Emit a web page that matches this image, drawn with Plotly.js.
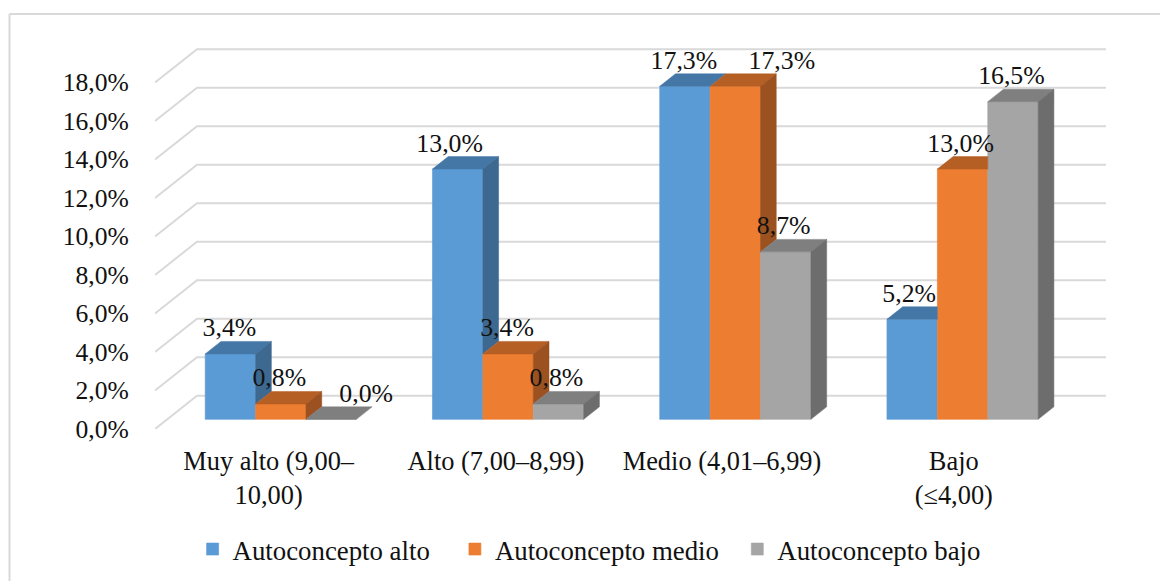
<!DOCTYPE html>
<html>
<head>
<meta charset="utf-8">
<script src="https://cdn.plot.ly/plotly-3.0.1.min.js"></script>
<style>html,body{margin:0;padding:0;background:#fff}</style>
</head>
<body>
<div id="chart" style="width:1160px;height:581px"></div>
<script>
const categories = ['Muy alto (9,00–<br>10,00)', 'Alto (7,00–8,99)', 'Medio (4,01–6,99)', 'Bajo<br>(≤4,00)'];
const yTicks = [0, 2, 4, 6, 8, 10, 12, 14, 16, 18];
const yTickLabels = ['0,0%', '2,0%', '4,0%', '6,0%', '8,0%', '10,0%', '12,0%', '14,0%', '16,0%', '18,0%'];
const autoconceptoAlto = [3.4, 13.0, 17.3, 5.2];
const autoconceptoMedio = [0.8, 3.4, 17.3, 13.0];
const autoconceptoBajo = [0.0, 0.8, 8.7, 16.5];

const seriesNames = ['Autoconcepto alto\u00A0\u00A0\u00A0', 'Autoconcepto medio\u00A0\u00A0', 'Autoconcepto bajo'];
const seriesValues = [autoconceptoAlto, autoconceptoMedio, autoconceptoBajo];
const frontColors = ['#5B9BD5', '#ED7D31', '#A5A5A5'];
const topColors = ['#4577A6', '#B55F25', '#7F7F7F'];
const sideColors = ['#3D6890', '#9B5120', '#6D6D6D'];

// Scales: axis units per pixel, so that oblique depth can be expressed in axis units
const xUnit = 1 / 227.25, yUnit = 1 / 19.25;
const wallDx = 42 * xUnit, wallDy = 33.3 * yUnit;    // full floor depth
const depthFront = 0.29, depthBack = 0.665;          // bars' position in that depth
const barWidth = 50.4 * xUnit;
const ddx = (depthBack - depthFront) * wallDx, ddy = (depthBack - depthFront) * wallDy;
const baseX = depthFront * wallDx, baseY = depthFront * wallDy;

const traces = [];
function poly(xs, ys, color) {
  traces.push({type: 'scatter', mode: 'lines', x: xs.concat(xs[0]), y: ys.concat(ys[0]), fill: 'toself',
    fillcolor: color, line: {width: 0.5, color: color}, hoverinfo: 'skip', showlegend: false});
}

// Front faces are real bars
seriesValues.forEach((vals, s) => traces.push({type: 'bar', name: seriesNames[s],
  x: categories.map((c, i) => i + baseX + (s - 1) * barWidth), y: vals,
  base: vals.map(() => baseY), width: barWidth, marker: {color: frontColors[s], line: {width: 0.6, color: frontColors[s]}}}));

// Top and side faces, clipped where the next bar along hides them
seriesValues.forEach((vals, s) => vals.forEach((v, i) => {
  const xl = i + baseX + (s - 1.5) * barWidth, xr = xl + barWidth, yt = v + baseY;
  const next = s < 2 ? seriesValues[s + 1][i] : 0;
  if (next - v >= ddy) {
    poly([xl, xr, xr, xl + ddx], [yt, yt, yt + ddy, yt + ddy], topColors[s]);
  } else {
    poly([xl, xr, xr + ddx, xl + ddx], [yt, yt, yt + ddy, yt + ddy], topColors[s]);
  }
  if (v > next) {
    const yb = next + baseY;
    poly([xr, xr + ddx, xr + ddx, xr], [yt, yt + ddy, yb + ddy, yb], sideColors[s]);
  }
}));

// Data labels (key: category,series)
const labelNudgePx = {'0,0': -1, '0,1': -1.5, '0,2': 35, '1,0': -8, '1,1': -1, '1,2': -2, '2,0': -1, '2,1': 46.5, '2,2': -2, '3,0': -3, '3,1': -2, '3,2': -1.5};
seriesValues.forEach((vals, s) => traces.push({type: 'scatter', mode: 'text',
  x: vals.map((v, i) => i + baseX + (s - 1) * barWidth + (labelNudgePx[i + ',' + s] || 0) * xUnit),
  y: vals.map(v => v + baseY + 24 * yUnit),
  text: vals.map(v => v.toFixed(1).replace('.', ',') + '%'),
  textposition: 'middle center', textfont: {family: 'Liberation Serif', size: 25.8, color: '#111'},
  cliponaxis: false, hoverinfo: 'skip', showlegend: false}));

// Wall and floor gridlines, beneath the bars
const gridShapes = yTicks.map(v => ({type: 'path', xref: 'x', yref: 'y', layer: 'below',
  path: 'M' + (-0.5) + ',' + v + 'L' + (-0.5 + wallDx) + ',' + (v + wallDy) + 'L' + (3.5 + wallDx) + ',' + (v + wallDy),
  line: {color: '#D9D9D9', width: 2}}));

const plotLeft = 155, plotRight = 1107, plotTop = 40, plotBottom = 429;
const layout = {
  width: 1160, height: 581, paper_bgcolor: '#fff', plot_bgcolor: 'rgba(0,0,0,0)',
  margin: {l: plotLeft, r: 1160 - plotRight, t: plotTop, b: 581 - plotBottom, pad: 0},
  barmode: 'overlay', showlegend: true,
  font: {family: 'Liberation Serif', size: 24, color: '#111'},
  xaxis: {type: 'linear', range: [-0.5, -0.5 + (plotRight - plotLeft) * xUnit], tickmode: 'array',
    tickvals: [0, 1, 1.995, 3.015], ticktext: categories, showgrid: false, zeroline: false, showline: false,
    ticks: 'outside', ticklen: 8, tickcolor: 'rgba(0,0,0,0)', tickangle: 0, fixedrange: true,
    tickfont: {family: 'Liberation Serif', size: 26.4, color: '#111'}},
  yaxis: {type: 'linear', range: [0, (plotBottom - plotTop) * yUnit], tickmode: 'array',
    tickvals: yTicks, ticktext: yTickLabels, showgrid: false, zeroline: false, showline: false,
    ticks: 'outside', ticklen: 20, tickcolor: 'rgba(0,0,0,0)', fixedrange: true,
    tickfont: {family: 'Liberation Serif', size: 25.6, color: '#111'}},
  legend: {orientation: 'h', xref: 'paper', yref: 'container', x: 0.456, xanchor: 'center', y: 0.0135, yanchor: 'bottom',
    font: {family: 'Liberation Serif', size: 26.8, color: '#111'}, bgcolor: 'rgba(0,0,0,0)'},
  shapes: gridShapes.concat([
    {type: 'line', xref: 'paper', yref: 'paper', layer: 'below', line: {color: '#D9D9D9', width: 2},
     x0: (9.5 - plotLeft) / (plotRight - plotLeft), x1: (9.5 - plotLeft) / (plotRight - plotLeft),
     y0: (plotBottom - 581) / (plotBottom - plotTop), y1: (plotBottom - 14) / (plotBottom - plotTop)},
    {type: 'line', xref: 'paper', yref: 'paper', layer: 'below', line: {color: '#D9D9D9', width: 2},
     x0: (9.5 - plotLeft) / (plotRight - plotLeft), x1: (1160 - plotLeft) / (plotRight - plotLeft),
     y0: (plotBottom - 14) / (plotBottom - plotTop), y1: (plotBottom - 14) / (plotBottom - plotTop)}
  ])
};
Plotly.newPlot('chart', traces, layout, {displayModeBar: false, staticPlot: true});
</script>
</body>
</html>
